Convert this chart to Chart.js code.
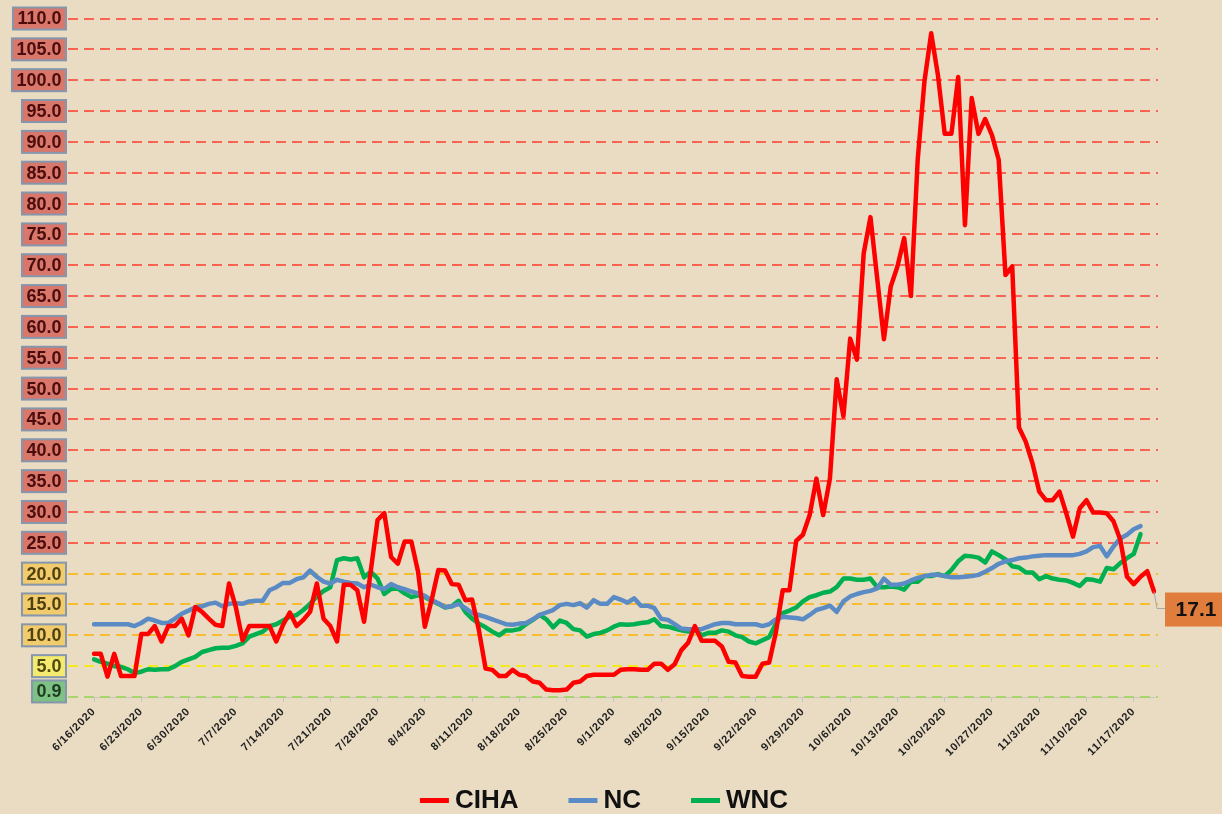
<!DOCTYPE html>
<html>
<head>
<meta charset="utf-8">
<script src="https://cdn.jsdelivr.net/npm/chart.js@4.4.0/dist/chart.umd.min.js"></script>
<style>
  html, body { margin: 0; padding: 0; background: #eadcc2; }
</style>
</head>
<body>
<canvas id="myChart" width="1222" height="814"></canvas>
<script>
// daily values, 6/16/2020 onward
const ciha = [
  7.0, 7.0, 3.3, 7.0, 3.4, 3.4, 3.4, 10.2, 10.2, 11.5,
  9.0, 11.5, 11.5, 12.7, 10.0, 14.6, 13.8, 12.7, 11.7, 11.5,
  18.4, 14.6, 9.2, 11.5, 11.5, 11.5, 11.5, 9.0, 11.7, 13.7,
  11.5, 12.5, 13.8, 18.4, 12.7, 11.5, 9.0, 18.2, 18.2, 17.3,
  12.2, 20.5, 28.7, 29.8, 22.7, 21.6, 25.2, 25.2, 20.3, 11.4,
  15.7, 20.6, 20.5, 18.3, 18.2, 15.7, 15.8, 10.9, 4.6, 4.4,
  3.4, 3.4, 4.4, 3.6, 3.4, 2.5, 2.3, 1.2, 1.1, 1.1,
  1.2, 2.3, 2.5, 3.4, 3.6, 3.6, 3.6, 3.6, 4.4, 4.5,
  4.5, 4.4, 4.4, 5.4, 5.4, 4.4, 5.3, 7.6, 8.8, 11.5,
  9.1, 9.1, 9.1, 8.2, 5.7, 5.6, 3.4, 3.3, 3.3, 5.4,
  5.6, 10.5, 17.3, 17.3, 25.3, 26.3, 29.5, 35.4, 29.5, 35.4,
  51.5, 45.5, 58.1, 54.7, 71.9, 77.8, 67.9, 58.0, 66.5, 69.8,
  74.4, 65.0, 87.1, 99.8, 107.6, 100.8, 91.3, 91.3, 100.5, 76.5,
  97.1, 91.3, 93.7, 91.1, 87.1, 68.4, 69.8, 43.7, 41.4, 37.9,
  33.3, 31.9, 31.9, 33.3, 29.8, 26.0, 30.6, 31.9, 29.9, 29.9,
  29.8, 28.5, 25.5, 19.5, 18.3, 19.5, 20.4, 17.1,
];

const nc = [
  11.8, 11.8, 11.8, 11.8, 11.8, 11.8, 11.5, 12.0, 12.7, 12.4,
  12.0, 12.0, 12.7, 13.5, 14.0, 14.5, 14.7, 15.1, 15.3, 14.7,
  15.1, 15.2, 15.1, 15.5, 15.6, 15.6, 17.3, 17.8, 18.5, 18.5,
  19.1, 19.4, 20.5, 19.5, 18.7, 18.4, 19.0, 18.7, 18.5, 18.4,
  17.8, 18.2, 17.8, 17.5, 18.3, 17.8, 17.5, 17.1, 16.8, 16.4,
  15.7, 15.2, 14.6, 14.7, 15.1, 14.4, 13.6, 13.3, 13.0, 12.6,
  12.2, 11.8, 11.7, 11.9, 12.0, 12.6, 13.3, 13.7, 14.1, 14.9,
  15.1, 14.9, 15.2, 14.5, 15.7, 15.1, 15.1, 16.2, 15.8, 15.3,
  16.0, 14.8, 14.8, 14.4, 12.7, 12.5, 11.8, 11.1, 11.0, 11.0,
  11.0, 11.4, 11.8, 12.0, 12.0, 11.8, 11.8, 11.8, 11.8, 11.5,
  11.8, 12.6, 13.0, 12.9, 12.8, 12.6, 13.3, 14.1, 14.4, 14.8,
  13.8, 15.5, 16.3, 16.7, 17.0, 17.2, 17.6, 19.2, 18.2, 18.2,
  18.4, 18.9, 19.3, 19.6, 19.8, 19.8, 19.6, 19.4, 19.4, 19.5,
  19.6, 19.8, 20.3, 20.9, 21.6, 22.0, 22.2, 22.5, 22.6, 22.8,
  22.9, 23.0, 23.0, 23.0, 23.0, 23.0, 23.2, 23.6, 24.3, 24.5,
  22.8, 24.4, 25.7, 26.3, 27.2, 27.7,
];

const wnc = [
  6.1, 5.7, 5.4, 5.0, 4.9, 4.5, 3.9, 4.1, 4.5, 4.4,
  4.5, 4.5, 5.0, 5.7, 6.1, 6.5, 7.3, 7.6, 7.9, 8.0,
  8.0, 8.3, 8.7, 9.8, 10.2, 10.6, 11.5, 11.8, 12.4, 13.0,
  13.3, 14.1, 15.1, 16.3, 17.2, 17.8, 22.2, 22.5, 22.3, 22.5,
  19.4, 20.3, 19.2, 16.7, 17.5, 17.6, 16.8, 16.2, 16.5, 16.2,
  15.6, 15.1, 14.5, 14.7, 15.6, 13.8, 12.7, 11.9, 11.3, 10.6,
  10.0, 10.8, 10.8, 11.0, 11.8, 12.5, 13.3, 12.6, 11.3, 12.4,
  12.0, 11.0, 10.8, 9.8, 10.2, 10.4, 10.8, 11.4, 11.8, 11.7,
  11.8, 12.0, 12.1, 12.6, 11.5, 11.4, 11.1, 10.8, 10.6, 10.9,
  10.0, 10.4, 10.4, 10.8, 10.6, 10.0, 9.7, 9.0, 8.7, 9.2,
  9.7, 11.9, 13.6, 14.0, 14.5, 15.5, 16.2, 16.5, 16.9, 17.1,
  17.8, 19.2, 19.2, 19.0, 19.0, 19.2, 17.8, 17.8, 17.9, 17.8,
  17.4, 18.7, 18.7, 19.6, 19.6, 19.9, 19.6, 20.6, 22.0, 22.9,
  22.8, 22.6, 21.8, 23.6, 23.0, 22.3, 21.2, 21.0, 20.2, 20.2,
  19.1, 19.6, 19.2, 19.0, 18.9, 18.5, 18.0, 19.1, 19.0, 18.7,
  20.9, 20.7, 21.7, 22.5, 23.2, 26.4,
];

// the boxed labels on the left and the dashed lines across
const yLabels = [0.9, 5, 10, 15, 20, 25, 30, 35, 40, 45, 50, 55, 60, 65, 70, 75, 80, 85, 90, 95, 100, 105, 110];
const bandLines = [0, 5, 10, 15, 20, 25, 30, 35, 40, 45, 50, 55, 60, 65, 70, 75, 80, 85, 90, 95, 100, 105, 110];

const dates = [];
for (let i = 0; i < ciha.length; i++) {
  const d = new Date(2020, 5, 16 + i);
  dates.push(d.getMonth() + 1 + "/" + d.getDate() + "/" + d.getFullYear());
}

function boxColors(v) {
  if (v >= 25) return { fill: "#d9776b", text: "#4a0c0c" };
  if (v >= 10) return { fill: "#f1cb6c", text: "#4f4210" };
  if (v >= 5) return { fill: "#f4ea6e", text: "#4f4a10" };
  return { fill: "#7dc184", text: "#1f3b22" };
}

function dashColor(v) {
  if (v >= 25) return "rgba(255, 70, 55, 0.8)";
  if (v >= 10) return "#f6bd33";
  if (v >= 5) return "#f3ea1c";
  return "#a9d46f";
}

const bandPlugin = {
  id: "bandPlugin",
  beforeDraw(chart) {
    // a little spacing for the rotated date labels
    chart.ctx.letterSpacing = "0.8px";
  },
  beforeDatasetsDraw(chart) {
    const { ctx, chartArea } = chart;
    ctx.letterSpacing = "0px";
    const y = chart.scales.y;
    ctx.save();
    ctx.lineWidth = 2;
    ctx.setLineDash([10, 6]);
    bandLines.forEach((v) => {
      const py = Math.round(y.getPixelForValue(v));
      ctx.strokeStyle = dashColor(v);
      ctx.beginPath();
      ctx.moveTo(68, py);
      ctx.lineTo(chartArea.right + 4, py);
      ctx.stroke();
    });
    ctx.restore();
  },
  afterDraw(chart) {
    const ctx = chart.ctx;
    const y = chart.scales.y;
    ctx.save();
    ctx.font = "bold 18px 'Liberation Sans'";
    ctx.textBaseline = "middle";
    ctx.textAlign = "center";
    yLabels.forEach((v) => {
      const txt = v.toFixed(1);
      const w = ctx.measureText(txt).width + 9;
      const py = y.getPixelForValue(v);
      const c = boxColors(v);
      ctx.fillStyle = c.fill;
      ctx.fillRect(66 - w, py - 11, w, 22);
      ctx.strokeStyle = "#8596ad";
      ctx.lineWidth = 2;
      ctx.strokeRect(66 - w, py - 11, w, 22);
      ctx.fillStyle = c.text;
      ctx.fillText(txt, 66 - w / 2, py + 1);
    });

    // legend at the bottom
    ctx.font = "bold 26px 'Liberation Sans'";
    ctx.textAlign = "left";
    const items = chart.data.datasets.map((ds) => ({
      text: ds.label,
      color: ds.borderColor,
      w: ctx.measureText(ds.label).width,
    }));
    const total = items.reduce((s, it) => s + 29 + 6 + it.w, 0) + 50 * (items.length - 1);
    let x = 604 - total / 2;
    items.forEach((it) => {
      ctx.fillStyle = it.color;
      ctx.fillRect(x, 798, 29, 5);
      x += 35;
      ctx.fillStyle = "#111111";
      ctx.fillText(it.text, x, 801);
      x += it.w + 50;
    });
    ctx.restore();
  },
  afterDatasetsDraw(chart) {
    // value label on the last CIHA point
    const meta = chart.getDatasetMeta(0);
    const pt = meta.data[meta.data.length - 1];
    const ctx = chart.ctx;
    ctx.save();
    ctx.strokeStyle = "#a6a6a6";
    ctx.lineWidth = 1;
    ctx.beginPath();
    ctx.moveTo(pt.x, pt.y);
    ctx.lineTo(pt.x + 3, pt.y + 17);
    ctx.lineTo(pt.x + 11, pt.y + 17);
    ctx.stroke();
    ctx.fillStyle = "#e07c3c";
    ctx.fillRect(pt.x + 11, pt.y + 1, 62, 34);
    ctx.fillStyle = "#111111";
    ctx.font = "bold 21px 'Liberation Sans'";
    ctx.textAlign = "center";
    ctx.textBaseline = "middle";
    ctx.fillText(ciha[ciha.length - 1].toFixed(1), pt.x + 42, pt.y + 19);
    ctx.restore();
  },
};

const ctx = document.getElementById("myChart");

new Chart(ctx, {
  type: "line",
  data: {
    labels: dates,
    datasets: [
      {
        label: "CIHA",
        data: ciha,
        borderColor: "#ff0000",
        backgroundColor: "#ff0000",
        borderWidth: 4.5,
        tension: 0,
        pointRadius: 0,
        borderJoinStyle: "round",
        borderCapStyle: "round",
      },
      {
        label: "NC",
        data: nc,
        borderColor: "#5a8bc4",
        backgroundColor: "#5a8bc4",
        borderWidth: 4.5,
        tension: 0,
        pointRadius: 0,
        borderJoinStyle: "round",
        borderCapStyle: "round",
      },
      {
        label: "WNC",
        data: wnc,
        borderColor: "#00b050",
        backgroundColor: "#00b050",
        borderWidth: 4.5,
        tension: 0,
        pointRadius: 0,
        borderJoinStyle: "round",
        borderCapStyle: "round",
      },
    ],
  },
  options: {
    responsive: false,
    animation: false,
    layout: {
      padding: { left: 94, right: 68, top: 0, bottom: 0 },
    },
    plugins: {
      legend: { display: false },
      tooltip: { enabled: false },
    },
    scales: {
      y: {
        display: false,
        min: 0,
        max: 113,
      },
      x: {
        grid: {
          drawOnChartArea: false,
          tickLength: 5,
          color: (c) => (c.index % 7 === 0 ? "#c4c4c4" : "rgba(0,0,0,0)"),
        },
        border: { color: "#c4c4c4", width: 1 },
        ticks: {
          autoSkip: false,
          minRotation: 45,
          maxRotation: 45,
          padding: 3,
          color: "#222222",
          font: { family: "Liberation Sans", size: 11, weight: "bold" },
          callback: function (value, index) {
            return index % 7 === 0 ? this.getLabelForValue(value) : "";
          },
        },
        afterFit: (scale) => {
          scale.height = 117;
        },
      },
    },
  },
  plugins: [bandPlugin],
});
</script>
</body>
</html>
